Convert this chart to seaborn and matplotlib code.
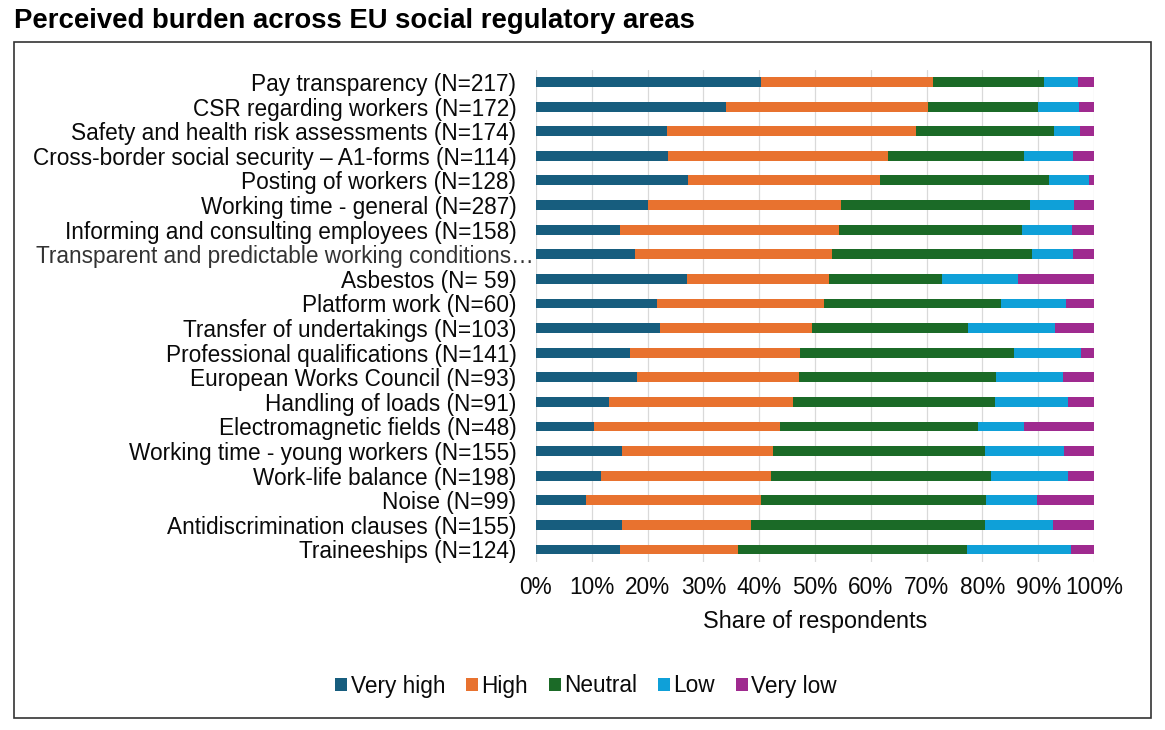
import numpy as np
import pandas as pd
import seaborn as sns
import matplotlib.pyplot as plt
from matplotlib.patches import Patch, Rectangle

# data (share of respondents, %)
areas = [
    "Pay transparency (N=217)",
    "CSR regarding workers (N=172)",
    "Safety and health risk assessments (N=174)",
    "Cross-border social security \u2013 A1-forms (N=114)",
    "Posting of workers (N=128)",
    "Working time - general (N=287)",
    "Informing and consulting employees (N=158)",
    "Transparent and predictable working conditions\u2026",
    "Asbestos (N= 59)",
    "Platform work (N=60)",
    "Transfer of undertakings (N=103)",
    "Professional qualifications (N=141)",
    "European Works Council (N=93)",
    "Handling of loads (N=91)",
    "Electromagnetic fields (N=48)",
    "Working time - young workers (N=155)",
    "Work-life balance (N=198)",
    "Noise (N=99)",
    "Antidiscrimination clauses (N=155)",
    "Traineeships (N=124)",
]
very_high = [40.4, 34.1, 23.5, 23.6, 27.2, 20.1, 15.1, 17.8, 27.1, 21.7,
             22.3, 16.9, 18.1, 13.1, 10.4, 15.4, 11.6, 8.9, 15.4, 15.1]
high = [30.8, 36.1, 44.7, 39.5, 34.4, 34.5, 39.2, 35.3, 25.4, 30.0,
        27.1, 30.5, 29.1, 33.0, 33.3, 27.1, 30.6, 31.5, 23.2, 21.1]
neutral = [19.8, 19.7, 24.6, 24.4, 30.3, 34.0, 32.8, 35.8, 20.3, 31.7,
           28.1, 38.3, 35.3, 36.1, 35.4, 38.0, 39.4, 40.2, 41.9, 41.0]
low = [6.1, 7.5, 4.7, 8.7, 7.2, 7.9, 8.9, 7.3, 13.6, 11.7,
       15.5, 12.0, 12.0, 13.2, 8.3, 14.2, 13.7, 9.2, 12.2, 18.7]
very_low = [2.9, 2.6, 2.5, 3.8, 0.9, 3.5, 4.0, 3.8, 13.6, 5.0,
            7.0, 2.3, 5.5, 4.6, 12.5, 5.3, 4.7, 10.2, 7.3, 4.1]

levels = ["Very high", "High", "Neutral", "Low", "Very low"]
colors = ["#175d7e", "#e8722f", "#1b6a27", "#0fa0d8", "#9f2a8f"]
x_ticks = [0, 10, 20, 30, 40, 50, 60, 70, 80, 90, 100]
x_tick_labels = ["0%", "10%", "20%", "30%", "40%", "50%",
                 "60%", "70%", "80%", "90%", "100%"]

sns.set_style("white")
plt.rcParams["font.family"] = ["Liberation Sans", "DejaVu Sans"]

df = pd.DataFrame({"area": areas, "Very high": very_high, "High": high,
                   "Neutral": neutral, "Low": low, "Very low": very_low})
shares = df[levels]
shares = shares.div(shares.sum(axis=1), axis=0) * 100
cum = shares.cumsum(axis=1)

fig = plt.figure(figsize=(11.65, 7.3), dpi=100)
ax = fig.add_axes([0.460, 0.2305, 0.479, 0.674])

# stacked bars: draw the running totals from the outside in
for level, color in reversed(list(zip(levels, colors))):
    sns.barplot(x=cum[level], y=df["area"], orient="h", color=color,
                saturation=1, width=0.4, errorbar=None, linewidth=0,
                ax=ax, zorder=2)

ax.set_xlim(0, 100)
ax.set_xticks(x_ticks)
ax.set_xticklabels(x_tick_labels)
ax.set_axisbelow(True)
ax.grid(axis="x", color="#d9d9d9", linewidth=0.9)
ax.grid(axis="y", visible=False)
for s in ax.spines.values():
    s.set_visible(False)
ax.tick_params(axis="y", length=0, labelsize=16.3, pad=14, labelcolor="#0a0a0a")
ax.tick_params(axis="x", length=0, labelsize=16.3, pad=10, labelcolor="#0a0a0a")
# the truncated label runs right up to the axis, like in the original
ax.yaxis.get_major_ticks()[7].set_pad(1.5)
ax.get_yticklabels()[7].set_color("#333333")
ax.set_ylabel("")
ax.set_xlabel("Share of respondents", fontsize=16.8, labelpad=8, color="#0a0a0a")

handles = [Patch(facecolor=c, edgecolor="none") for c in colors]
leg = fig.legend(handles, levels, loc="center", bbox_to_anchor=(586 / 1165, 1 - 686 / 730),
                 ncol=5, frameon=False, fontsize=16.3, handlelength=0.55,
                 handleheight=0.55, handletextpad=0.15, columnspacing=0.9)
for t in leg.get_texts():
    t.set_color("#0a0a0a")

fig.text(14 / 1165, 1 - 21 / 730, "Perceived burden across EU social regulatory areas",
         fontsize=19.8, fontweight="bold", ha="left", va="center", color="black")

fig.add_artist(Rectangle((14 / 1165, 12 / 730), 1137 / 1165, 676 / 730,
                         transform=fig.transFigure, fill=False,
                         edgecolor="#333333", linewidth=1.2))

fig.savefig("out.png", dpi=100)
